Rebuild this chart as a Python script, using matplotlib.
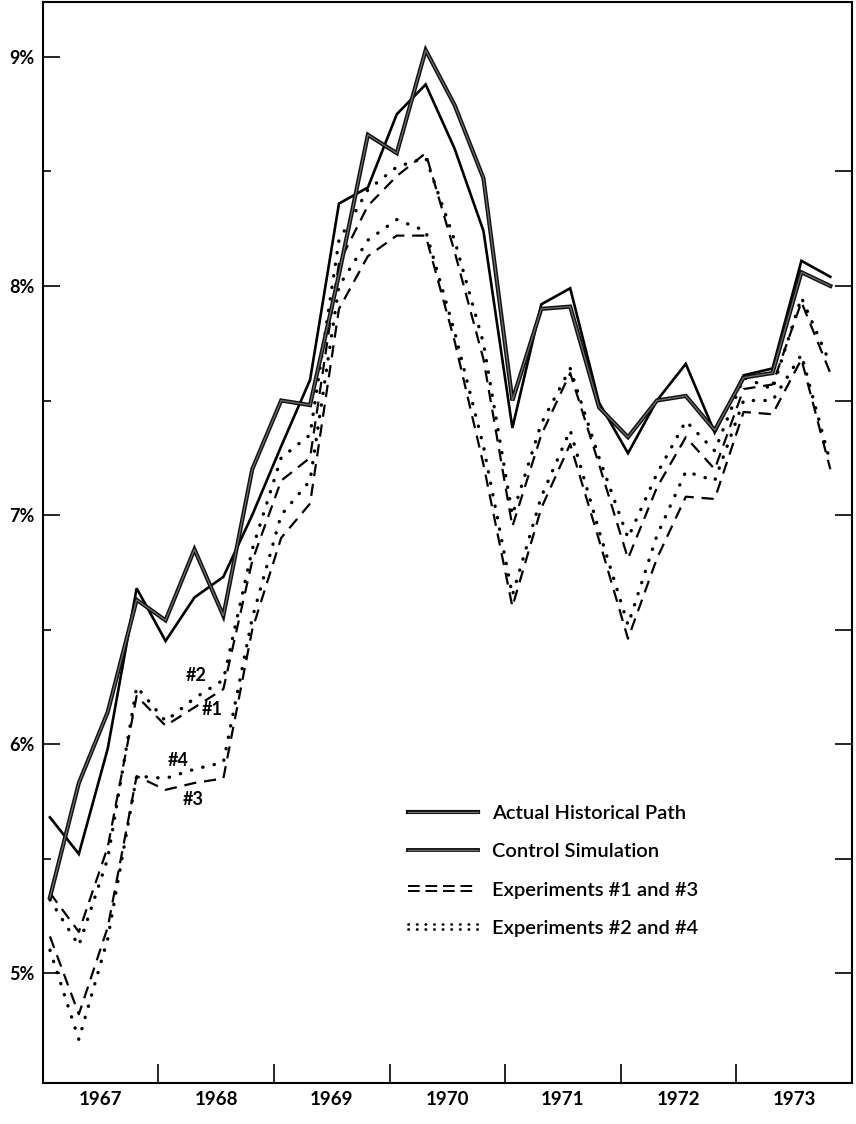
import numpy as np
import matplotlib
matplotlib.use("Agg")
import matplotlib.pyplot as plt
from matplotlib.lines import Line2D
from matplotlib.legend_handler import HandlerBase
import matplotlib.patheffects as pe

# ---------------- data (quarterly, 1967Q1 .. 1973Q4) ----------------
quarters = np.arange(28)
years = ["1967", "1968", "1969", "1970", "1971", "1972", "1973"]

actual = [5.33, 5.83, 6.14, 6.63, 6.54, 6.85, 6.56, 7.20, 7.50, 7.48,
          8.05, 8.66, 8.58, 9.03, 8.79, 8.47, 7.50, 7.90, 7.91, 7.47,
          7.34, 7.50, 7.52, 7.37, 7.60, 7.62, 8.06, 8.00]
control = [5.68, 5.52, 5.98, 6.68, 6.45, 6.64, 6.73, 7.00, 7.30, 7.59,
           8.36, 8.43, 8.75, 8.88, 8.60, 8.24, 7.38, 7.92, 7.99, 7.49,
           7.27, 7.50, 7.66, 7.36, 7.61, 7.64, 8.11, 8.04]
exp1 = [5.35, 5.18, 5.55, 6.21, 6.08, 6.16, 6.24, 6.80, 7.15, 7.25,
        8.10, 8.35, 8.48, 8.58, 8.15, 7.68, 6.95, 7.35, 7.62, 7.22,
        6.81, 7.12, 7.34, 7.20, 7.55, 7.57, 7.93, 7.62]
exp2 = [5.32, 5.12, 5.50, 6.25, 6.10, 6.20, 6.28, 6.85, 7.25, 7.35,
        8.20, 8.42, 8.52, 8.56, 8.20, 7.75, 7.00, 7.40, 7.64, 7.25,
        6.90, 7.18, 7.41, 7.28, 7.60, 7.55, 7.95, 7.66]
exp3 = [5.16, 4.82, 5.20, 5.86, 5.80, 5.83, 5.85, 6.50, 6.90, 7.05,
        7.90, 8.13, 8.22, 8.22, 7.76, 7.22, 6.60, 7.03, 7.31, 6.89,
        6.46, 6.81, 7.08, 7.07, 7.45, 7.44, 7.68, 7.20]
exp4 = [5.10, 4.71, 5.15, 5.86, 5.85, 5.89, 5.92, 6.55, 7.00, 7.15,
        8.00, 8.20, 8.29, 8.24, 7.80, 7.30, 6.65, 7.08, 7.37, 6.93,
        6.52, 6.91, 7.19, 7.15, 7.50, 7.50, 7.70, 7.23]

ytick_vals = [5, 6, 7, 8, 9]
ytick_labels = ["5%", "6%", "7%", "8%", "9%"]

# ---------------- figure ----------------
fig = plt.figure(figsize=(8.56, 11.24), dpi=100)
ax = fig.add_axes([43 / 856, 1 - 1083 / 1124, 809 / 856, 1081 / 1124])
ax.set_xlim(-0.24, 27.75)
ax.set_ylim(4.52, 9.24)

FONT = "Lato"

dash_style = (0, (5.5, 3.5))
dot_style = (0, (0.1, 3.4))

actual_pe = [pe.Stroke(linewidth=3.0, foreground="#111111"),
             pe.Stroke(linewidth=0.9, foreground="#6e6e6e")]

ax.plot(quarters, actual, color="#111111", lw=3.0, path_effects=actual_pe,
        solid_joinstyle="miter", zorder=5)
ax.plot(quarters, control, color="black", lw=1.9, solid_joinstyle="miter", zorder=4)
for series in (exp1, exp3):
    ax.plot(quarters, series, color="black", lw=1.6, ls=dash_style,
            dash_capstyle="butt", zorder=3)
for series in (exp2, exp4):
    ax.plot(quarters, series, color="black", lw=2.4, ls=dot_style,
            dash_capstyle="round", zorder=3)

# series labels
lab_kw = dict(fontsize=13, fontweight="bold", family=FONT, ha="center", va="center")
ax.text(5.06, 6.30, "#2", **lab_kw)
ax.text(5.62, 6.15, "#1", **lab_kw)
ax.text(4.45, 5.93, "#4", **lab_kw)
ax.text(4.95, 5.76, "#3", **lab_kw)

# spines
for s in ax.spines.values():
    s.set_linewidth(1.5)
    s.set_color("black")

# y ticks (left)
ax.set_yticks(ytick_vals)
ax.set_yticklabels(ytick_labels)
ax.set_yticks(np.arange(5.5, 9.0, 1.0), minor=True)
ax.tick_params(axis="y", which="major", direction="in", length=12, width=1.2,
               labelsize=13, pad=6)
ax.tick_params(axis="y", which="minor", direction="in", length=6, width=1.2)
for t in ax.get_yticklabels():
    t.set_fontfamily(FONT)
    t.set_fontweight("bold")

# right side ticks
ax2 = ax.twinx()
ax2.set_ylim(ax.get_ylim())
ax2.set_yticks(np.arange(5.0, 8.75, 0.5))
ax2.tick_params(axis="y", direction="in", length=12, width=1.2, labelright=False)
for s in ax2.spines.values():
    s.set_visible(False)

# x ticks: year boundaries, year labels centred between them
boundaries = np.arange(3.75, 24, 4)
ax.set_xticks(boundaries)
ax.set_xticklabels([])
ax.tick_params(axis="x", which="major", direction="in", length=14, width=1.2)
ax.set_xticks(np.arange(len(years)) * 4 + 1.75, minor=True)
ax.set_xticklabels(years, minor=True)
ax.tick_params(axis="x", which="minor", length=0, labelsize=13.5, pad=6)
for t in ax.get_xticklabels(minor=True):
    t.set_fontfamily(FONT)
    t.set_fontweight("bold")

# legend
class DoubleHandler(HandlerBase):
    def __init__(self, gap, lw, ls, capstyle, **kw):
        super().__init__(**kw)
        self.gap, self.lw, self.ls, self.cap = gap, lw, ls, capstyle

    def create_artists(self, legend, orig_handle, xdescent, ydescent,
                       width, height, fontsize, trans):
        y = (height - ydescent) / 2.0
        arts = []
        for dy in (-self.gap, self.gap):
            ln = Line2D([-xdescent, width - xdescent], [y + dy, y + dy],
                        color="black", lw=self.lw, ls=self.ls,
                        dash_capstyle=self.cap)
            ln.set_transform(trans)
            arts.append(ln)
        return arts

h_actual = Line2D([], [], color="#111111", lw=3.0, path_effects=actual_pe)
h_control = Line2D([], [], color="#111111", lw=2.8,
                   path_effects=[pe.Stroke(linewidth=2.8, foreground="#111111"),
                                 pe.Stroke(linewidth=0.9, foreground="#6e6e6e")])
h_dash = Line2D([], [], color="black")
h_dot = Line2D([], [], color="black")

leg = ax.legend([h_actual, h_control, h_dash, h_dot],
                ["Actual Historical Path", "Control Simulation",
                 "Experiments #1 and #3", "Experiments #2 and #4"],
                handler_map={h_dash: DoubleHandler(1.6, 1.4, (0, (6, 3)), "butt"),
                             h_dot: DoubleHandler(1.6, 2.0, (0, (0.1, 3.0)), "round")},
                loc="upper left", bbox_to_anchor=(0.429, 0.274), frameon=False,
                handlelength=3.45, handletextpad=0.7, labelspacing=1.05,
                prop={"family": FONT, "size": 14.5, "weight": 600})

fig.savefig("out.png", dpi=100)
